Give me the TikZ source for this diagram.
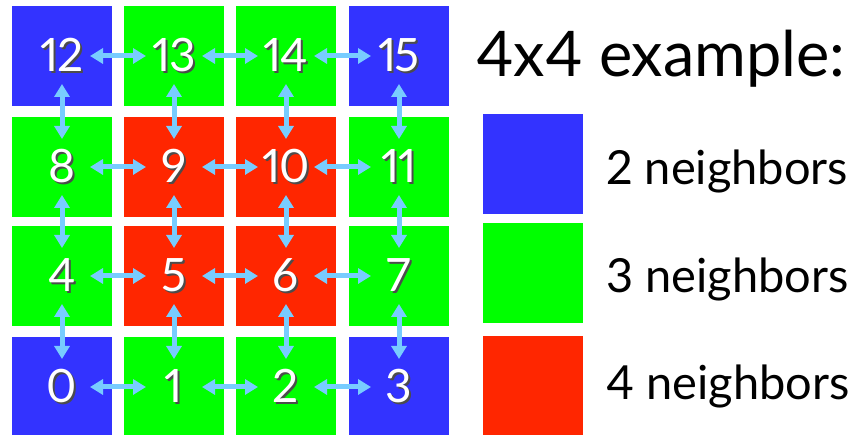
\documentclass[tikz,border=0pt]{standalone}
\usepackage{fontspec}
\setmainfont{Lato}[Numbers=Proportional]
\usetikzlibrary{arrows.meta,positioning}
\definecolor{cellblue}{RGB}{51,51,255}
\definecolor{cellgreen}{RGB}{0,255,0}
\definecolor{cellred}{RGB}{255,38,0}
\definecolor{linkblue}{RGB}{120,204,255}
\newcommand{\cellnum}[1]{\raisebox{-3pt}{\rlap{\hspace{2pt}\raisebox{-2pt}{\color{black!70}#1}}#1}}

\begin{document}
\begin{tikzpicture}[
  x=1pt,y=1pt,>={Triangle[length=13pt,width=15pt]},
  cell/.style={minimum size=100pt,inner sep=0pt,text=white,
    font=\fontsize{46}{46}\selectfont\addfontfeature{LetterSpace=-3}},
  two/.style={cell,fill=cellblue},
  three/.style={cell,fill=cellgreen},
  four/.style={cell,fill=cellred},
  link/.style={<->,line width=5pt,draw=linkblue,shorten >=28pt,shorten <=28pt},
  key/.style={font=\fontsize{47}{47}\selectfont,anchor=base west,inner sep=0pt}]
\useasboundingbox (0,0) rectangle (851,435);
\node[two] (c12) at (62,379) {\cellnum{12}};
\node[three] (c13) at (174,379) {\cellnum{13}};
\node[three] (c14) at (286,379) {\cellnum{14}};
\node[two] (c15) at (399,379) {\cellnum{15}};
\node[three] (c8) at (62,268) {\cellnum{8}};
\node[four] (c9) at (174,268) {\cellnum{9}};
\node[four] (c10) at (286,268) {\cellnum{10}};
\node[three] (c11) at (399,268) {\cellnum{11}};
\node[three] (c4) at (62,159) {\cellnum{4}};
\node[four] (c5) at (174,159) {\cellnum{5}};
\node[four] (c6) at (286,159) {\cellnum{6}};
\node[three] (c7) at (399,159) {\cellnum{7}};
\node[two] (c0) at (62,48) {\cellnum{0}};
\node[three] (c1) at (174,48) {\cellnum{1}};
\node[three] (c2) at (286,48) {\cellnum{2}};
\node[two] (c3) at (399,48) {\cellnum{3}};
\node[font=\fontsize{63}{63}\selectfont,anchor=base west,inner sep=0pt] (title) at (476,358) {4x4 example:};
\node[two,text=black] (key2) at (533,271) {};
\node[three,text=black] (key3) at (533,162) {};
\node[four,text=black] (key4) at (533,49) {};
\node[key] (lab2) at (606,250) {2 neighbors};
\node[key] (lab3) at (606,142) {3 neighbors};
\node[key] (lab4) at (606,35) {4 neighbors};
\draw[link] (c12.center)--(c13.center);
\draw[link] (c13.center)--(c14.center);
\draw[link] (c14.center)--(c15.center);
\draw[link] (c8.center)--(c9.center);
\draw[link] (c9.center)--(c10.center);
\draw[link] (c10.center)--(c11.center);
\draw[link] (c4.center)--(c5.center);
\draw[link] (c5.center)--(c6.center);
\draw[link] (c6.center)--(c7.center);
\draw[link] (c0.center)--(c1.center);
\draw[link] (c1.center)--(c2.center);
\draw[link] (c2.center)--(c3.center);
\draw[link] (c12.center)--(c8.center);
\draw[link] (c8.center)--(c4.center);
\draw[link] (c4.center)--(c0.center);
\draw[link] (c13.center)--(c9.center);
\draw[link] (c9.center)--(c5.center);
\draw[link] (c5.center)--(c1.center);
\draw[link] (c14.center)--(c10.center);
\draw[link] (c10.center)--(c6.center);
\draw[link] (c6.center)--(c2.center);
\draw[link] (c15.center)--(c11.center);
\draw[link] (c11.center)--(c7.center);
\draw[link] (c7.center)--(c3.center);
\end{tikzpicture}
\end{document}
